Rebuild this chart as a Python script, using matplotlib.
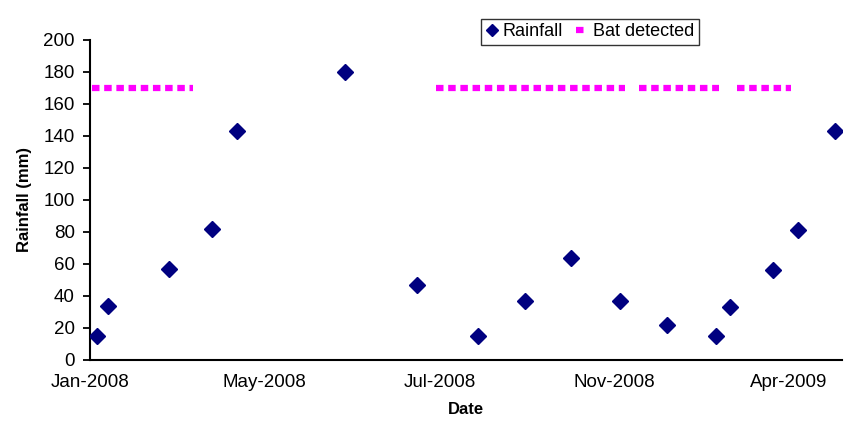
import numpy as np
import matplotlib.pyplot as plt

# Data (x in days since 1 Jan 2008)
rain_day = [4, 10, 45, 70, 84, 146, 187, 222, 249, 275, 303, 330, 358, 366, 391, 405, 426]
rain_mm = [15, 34, 57, 82, 143, 180, 47, 15, 37, 64, 37, 22, 15, 33, 56, 81, 143]

# periods when the bat was detected (plotted at a fixed level)
bat_start = [1, 198, 314, 370]
bat_end = [59, 306, 360, 401]
bat_level = 170

tick_days = [0, 100, 200, 300, 400]
tick_labels = ['Jan-2008', 'May-2008', 'Jul-2008', 'Nov-2008', 'Apr-2009']

plt.rcParams['font.family'] = ['Liberation Sans', 'DejaVu Sans']

fig = plt.figure(figsize=(8.5, 4.25), dpi=100)
ax = fig.add_axes([0.106, 0.153, 0.884, 0.753])

# bat detected: one line with gaps between periods
bx, by = [], []
for s, e in zip(bat_start, bat_end):
    bx += [s, e, np.nan]
    by += [bat_level, bat_level, np.nan]
ax.plot(bx, by, color='#FF00FF', lw=4.5, linestyle=(0, (1.2, 0.75)),
        dash_capstyle='butt', label='Bat detected')

ax.plot(rain_day, rain_mm, linestyle='none', marker='D', markersize=8,
        color='#000080', label='Rainfall', zorder=3)

ax.set_xlim(0, 430)
ax.set_ylim(0, 200)
ax.set_yticks(np.arange(0, 201, 20))
ax.set_xticks(tick_days)
ax.set_xticklabels(tick_labels)
ax.tick_params(axis='y', length=5, width=1.3, labelsize=13.5, pad=6)
ax.tick_params(axis='x', length=0, labelsize=13.5, pad=10)

for side in ['top', 'right']:
    ax.spines[side].set_visible(False)
for side in ['left', 'bottom']:
    ax.spines[side].set_linewidth(1.5)

ax.set_xlabel('Date', fontweight='bold', fontsize=12, labelpad=8)
ax.set_ylabel('Rainfall (mm)', fontweight='bold', fontsize=12, labelpad=8)

h, l = ax.get_legend_handles_labels()
leg = ax.legend([h[1], h[0]], [l[1], l[0]], loc='upper center',
                bbox_to_anchor=(0.665, 1.095), ncol=2, frameon=True,
                fancybox=False, edgecolor='black', fontsize=13,
                handlelength=0.7, handletextpad=0.25, columnspacing=0.7,
                borderpad=0.25, markerscale=0.8)
leg.get_frame().set_linewidth(1.0)

fig.savefig('out.png', dpi=100)
